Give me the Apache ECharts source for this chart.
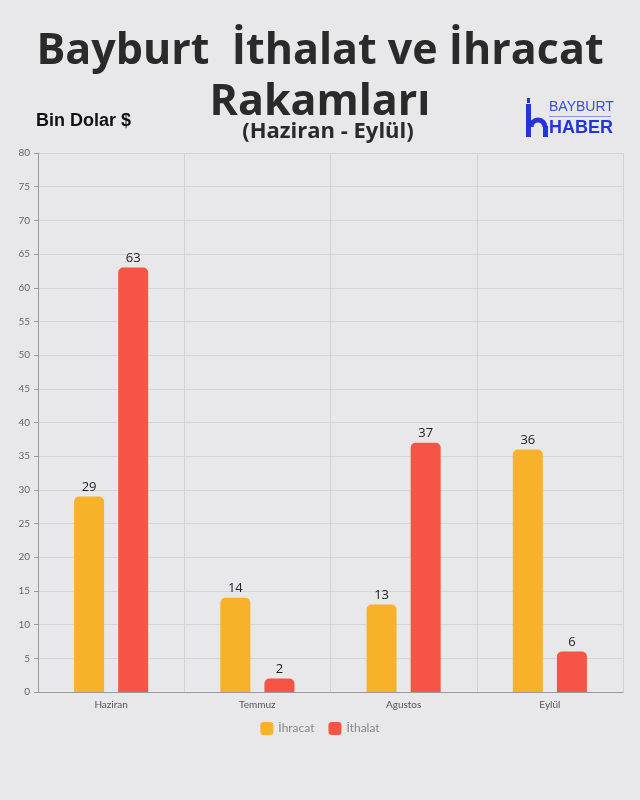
<!DOCTYPE html>
<html>
<head>
<meta charset="utf-8">
<script src="https://cdn.jsdelivr.net/npm/echarts@6/dist/echarts.min.js"></script>
<style>
  html, body { margin: 0; padding: 0; background: #e8e8ea; }
  #chart { width: 640px; height: 800px; }
</style>
</head>
<body>
<div id="chart"></div>
<script>
// aylar
var months = ['Haziran', 'Temmuz', 'Agustos', 'Eylül']
// bin dolar
var ihracat = [29, 14, 13, 36]
var ithalat = [63, 2, 37, 6]

var chart = echarts.init(document.getElementById('chart'))

chart.setOption({
  backgroundColor: '#e8e8ea',
  animation: false,
  title: [
    {
      text: 'Bayburt  İthalat ve İhracat\nRakamları',
      left: 'center',
      top: 21,
      textStyle: {
        fontFamily: 'Open Sans',
        fontWeight: 'bold',
        fontSize: 43,
        lineHeight: 51,
        color: '#2a2a2a'
      }
    },
    {
      text: '(Haziran - Eylül)',
      left: 323,
      textAlign: 'center',
      top: 116,
      textStyle: {
        fontFamily: 'Open Sans',
        fontWeight: 'bold',
        fontSize: 22,
        color: '#2a2a2a'
      }
    },
    {
      text: 'Bin Dolar $',
      left: 31,
      top: 107,
      textStyle: {
        fontFamily: 'Liberation Sans',
        fontWeight: 'bold',
        fontSize: 18,
        color: '#111'
      }
    }
  ],
  graphic: [
    // logo: minare + kemer
    { type: 'rect', left: 526, top: 104, shape: { width: 5, height: 33 }, style: { fill: '#2335d9' } },
    { type: 'rect', left: 527, top: 98, shape: { width: 3, height: 5 }, style: { fill: '#2335d9' } },
    {
      type: 'arc',
      shape: { cx: 538, cy: 127, r: 7, startAngle: Math.PI, endAngle: 2 * Math.PI },
      style: { stroke: '#2335d9', lineWidth: 5, fill: null }
    },
    { type: 'rect', left: 543, top: 126, shape: { width: 5, height: 11 }, style: { fill: '#2335d9' } },
    {
      type: 'text', left: 549, top: 100,
      style: { text: 'BAYBURT', font: '14px "Liberation Sans"', fill: '#3a4fd8' }
    },
    { type: 'rect', left: 549, top: 116, shape: { width: 62, height: 1 }, style: { fill: '#8a95e0' } },
    {
      type: 'text', left: 549, top: 119,
      style: { text: 'HABER', font: 'bold 18px "Liberation Sans"', fill: '#2335d9' }
    }
  ],
  legend: {
    bottom: 60,
    left: 'center',
    itemWidth: 13,
    itemHeight: 13,
    itemGap: 14,
    icon: 'roundRect',
    textStyle: { color: '#888', fontFamily: 'Lato', fontSize: 12 },
    data: ['İhracat', 'İthalat']
  },
  grid: {
    left: 38,
    right: 17,
    top: 153,
    bottom: 108
  },
  xAxis: {
    type: 'category',
    data: months,
    axisLine: { lineStyle: { color: '#9a9a9a' } },
    axisTick: { alignWithLabel: true, length: 4, lineStyle: { color: '#9a9a9a' } },
    axisLabel: { color: '#555', fontFamily: 'Lato', fontSize: 10, margin: 8 },
    splitLine: { show: true, lineStyle: { color: '#d2d2d4' } }
  },
  yAxis: {
    type: 'value',
    min: 0,
    max: 80,
    interval: 5,
    axisLine: { show: true, lineStyle: { color: '#9a9a9a' } },
    axisTick: { show: true, length: 4, lineStyle: { color: '#9a9a9a' } },
    axisLabel: { color: '#666', fontFamily: 'Lato', fontSize: 10, margin: 8 },
    splitLine: { lineStyle: { color: '#d6d6d8' } }
  },
  series: [
    {
      name: 'İhracat',
      type: 'bar',
      data: ihracat,
      barWidth: 30,
      barGap: '47%',
      itemStyle: { color: '#f7b229', borderRadius: [5, 5, 0, 0] },
      label: {
        show: true,
        position: 'top',
        color: '#222',
        fontFamily: 'Open Sans',
        fontSize: 13,
        distance: 3
      }
    },
    {
      name: 'İthalat',
      type: 'bar',
      data: ithalat,
      barWidth: 30,
      itemStyle: { color: '#f65545', borderRadius: [5, 5, 0, 0] },
      label: {
        show: true,
        position: 'top',
        color: '#222',
        fontFamily: 'Open Sans',
        fontSize: 13,
        distance: 3
      }
    }
  ]
})
</script>
</body>
</html>
